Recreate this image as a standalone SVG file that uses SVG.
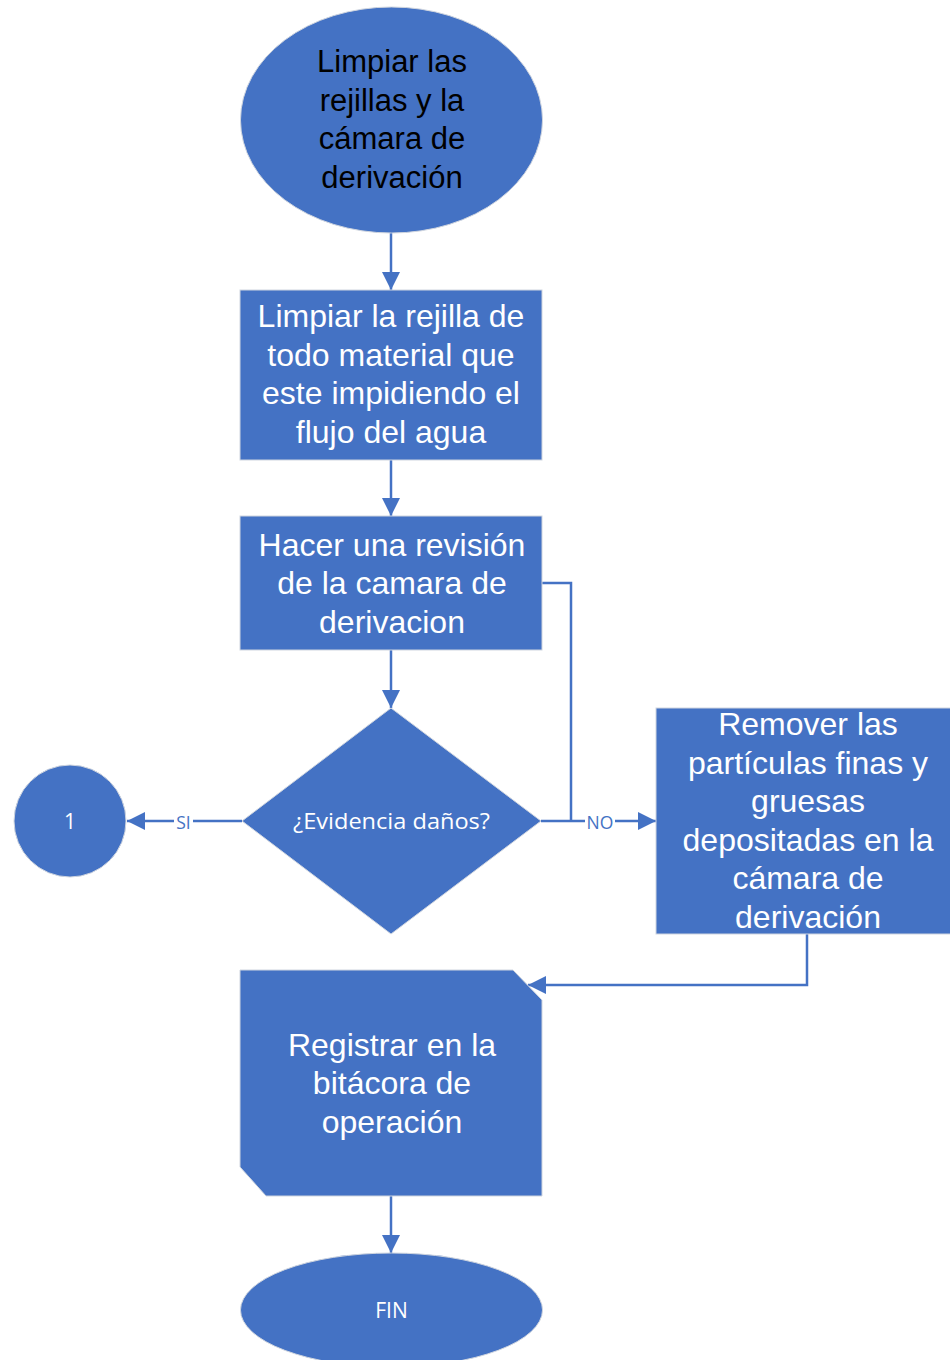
<svg xmlns="http://www.w3.org/2000/svg" width="950" height="1360" viewBox="0 0 950 1360">
<style>
.shape{fill:#4472C4;stroke:#cfd5df;stroke-width:1}
.t{font-family:"Liberation Sans",Arial,sans-serif;font-size:32px;fill:#ffffff;text-anchor:middle}
.tb{font-family:"Liberation Sans",Arial,sans-serif;font-size:31px;fill:#000000;text-anchor:middle}
.s{font-family:"Open Sans","Noto Sans",sans-serif;font-size:21px;fill:#ffffff;text-anchor:middle}
.lbl{font-family:"Open Sans","Noto Sans",sans-serif;font-size:17.5px;fill:#4472C4;text-anchor:middle}
.c{fill:none;stroke:#4472C4;stroke-width:2.5}
</style>
<defs>
<marker id="arr" viewBox="0 0 18 18" markerWidth="18" markerHeight="18" refX="18" refY="9" orient="auto" markerUnits="userSpaceOnUse">
<path d="M0,0 L18,9 L0,18 Z" fill="#4472C4"/>
</marker>
</defs>
<rect width="950" height="1360" fill="#ffffff"/>

<g id="connectors">
<path class="c" d="M391,233 V290" marker-end="url(#arr)"/>
<path class="c" d="M391,460 V516" marker-end="url(#arr)"/>
<path class="c" d="M391,650 V708" marker-end="url(#arr)"/>
<path class="c" d="M242,821 H127" marker-end="url(#arr)"/>
<path class="c" d="M541,821 H656" marker-end="url(#arr)"/>
<path class="c" d="M542,583 H571 V821"/>
<path class="c" d="M807,934 V985 H528" marker-end="url(#arr)"/>
<path class="c" d="M391,1196 V1253" marker-end="url(#arr)"/>
<rect x="174" y="812" width="19" height="19" fill="#ffffff"/>
<text class="lbl" x="183.5" y="829">SI</text>
<rect x="585" y="812" width="30" height="19" fill="#ffffff"/>
<text class="lbl" x="600" y="829">NO</text>
</g>

<g id="start">
<ellipse class="shape" cx="391.5" cy="120" rx="151" ry="113"/>
<text class="tb" x="392" y="72">Limpiar las</text>
<text class="tb" x="392" y="111">rejillas y la</text>
<text class="tb" x="392" y="149">cámara de</text>
<text class="tb" x="392" y="188">derivación</text>
</g>

<g id="limpiar">
<rect class="shape" x="240" y="290" width="302" height="170"/>
<text class="t" x="391" y="327">Limpiar la rejilla de</text>
<text class="t" x="391" y="366">todo material que</text>
<text class="t" x="391" y="404">este impidiendo el</text>
<text class="t" x="391" y="443">flujo del agua</text>
</g>

<g id="revision">
<rect class="shape" x="240" y="516" width="302" height="134"/>
<text class="t" x="392" y="556">Hacer una revisión</text>
<text class="t" x="392" y="594">de la camara de</text>
<text class="t" x="392" y="633">derivacion</text>
</g>

<g id="decision">
<path class="shape" d="M391,708 L541,821 L391,934 L242,821 Z"/>
<text class="s" x="391.5" y="829" textLength="197" lengthAdjust="spacingAndGlyphs">¿Evidencia daños?</text>
</g>

<g id="conector1">
<circle class="shape" cx="70" cy="821" r="56"/>
<text class="s" x="70" y="829">1</text>
</g>

<g id="remover">
<rect class="shape" x="656" y="708" width="304" height="226"/>
<text class="t" x="808" y="735">Remover las</text>
<text class="t" x="808" y="774">partículas finas y</text>
<text class="t" x="808" y="812">gruesas</text>
<text class="t" x="808" y="851">depositadas en la</text>
<text class="t" x="808" y="889">cámara de</text>
<text class="t" x="808" y="928">derivación</text>
</g>

<g id="registrar">
<path class="shape" d="M240,970 H513 L542,1000 V1196 H266 L240,1167 Z"/>
<text class="t" x="392" y="1056">Registrar en la</text>
<text class="t" x="392" y="1094">bitácora de</text>
<text class="t" x="392" y="1133">operación</text>
</g>

<g id="fin">
<ellipse class="shape" cx="391.5" cy="1310" rx="151" ry="57"/>
<text class="s" x="391.5" y="1318">FIN</text>
</g>
</svg>
